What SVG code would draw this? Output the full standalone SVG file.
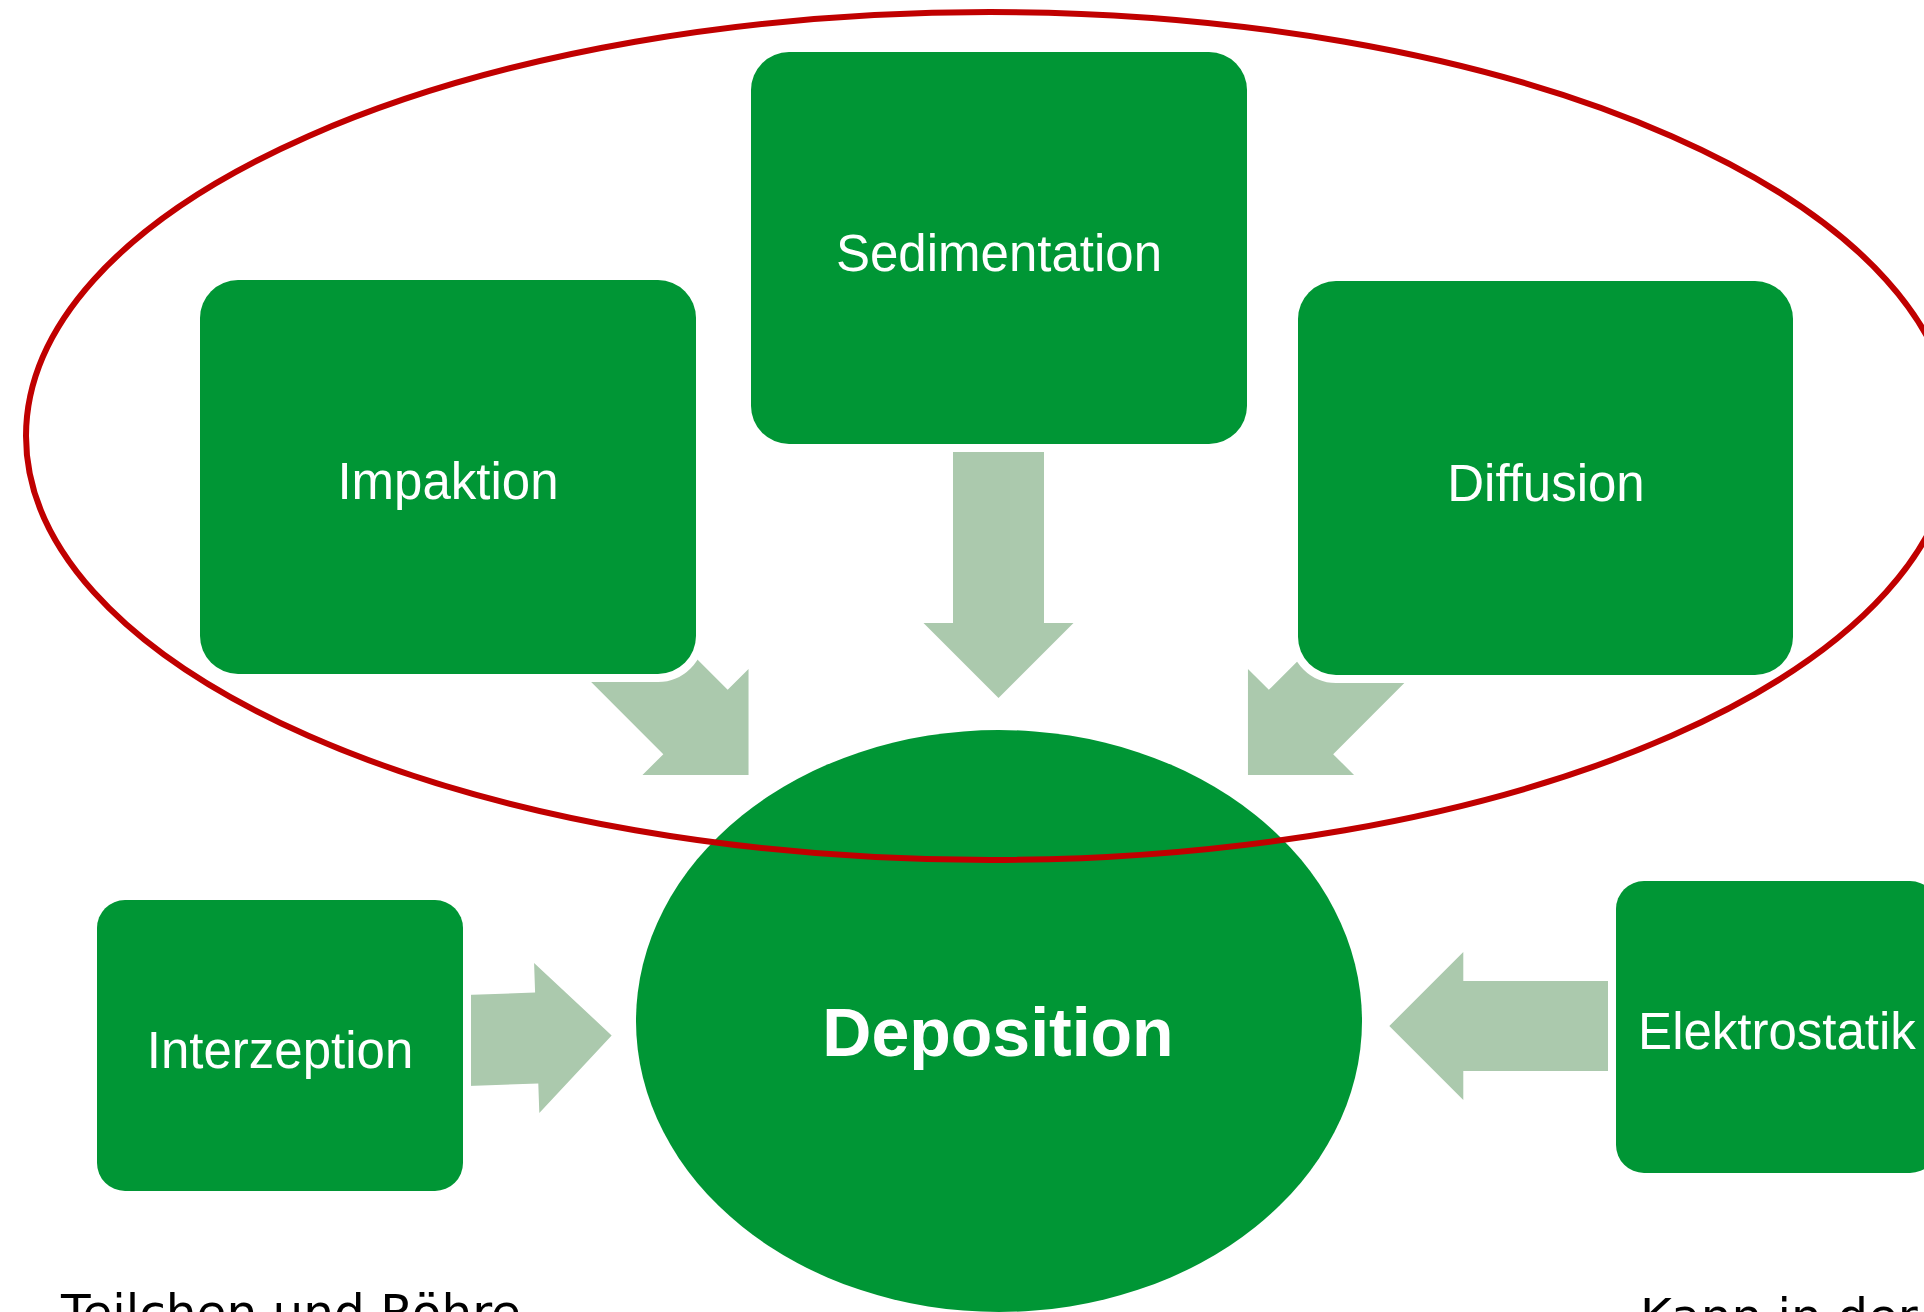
<svg xmlns="http://www.w3.org/2000/svg" width="1924" height="1312" viewBox="0 0 1924 1312">
  <style>
    .box { fill: #009635; stroke: #ffffff; stroke-width: 16; paint-order: stroke; }
    .lbl { fill: #ffffff; font-family: "Liberation Sans", Arial, sans-serif; font-size: 51px; text-anchor: middle; }
    .arrow { fill: #abc9ad; }
    .note { fill: #000000; font-family: "DejaVu Sans", Verdana, sans-serif; font-size: 48.5px; }
  </style>
  <defs>
    <path id="arr" d="M -220 -45.5 L 0 -45.5 L 0 -75 L 75 0 L 0 75 L 0 45.5 L -220 45.5 Z"/>
  </defs>
  <rect width="1924" height="1312" fill="#ffffff"/>

  <g id="connectors">
    <use href="#arr" class="arrow" transform="translate(998.5,623) rotate(90)"/>
    <use href="#arr" class="arrow" transform="translate(695.5,722) rotate(45)"/>
    <use href="#arr" class="arrow" transform="translate(1301,722) rotate(135)"/>
    <path class="arrow" transform="translate(536.7,1038) rotate(-2)" d="M -70 -45.5 L 0 -45.5 L 0 -75 L 75 0 L 0 75 L 0 45.5 L -70 45.5 Z"/>
    <path class="arrow" transform="translate(1463.3,1026) rotate(180)" d="M -150 -45 L 0 -45 L 0 -74 L 74 0 L 0 74 L 0 45 L -150 45 Z"/>
  </g>

  <g id="node-sedimentation">
    <rect class="box" x="751" y="52" width="496" height="392" rx="38" ry="38"/>
    <text class="lbl" x="999" y="271">Sedimentation</text>
  </g>
  <g id="node-impaktion">
    <rect class="box" x="200" y="280" width="496" height="394" rx="38" ry="38"/>
    <text class="lbl" x="448" y="499">Impaktion</text>
  </g>
  <g id="node-diffusion">
    <rect class="box" x="1298" y="281" width="495" height="394" rx="38" ry="38"/>
    <text class="lbl" x="1546" y="501">Diffusion</text>
  </g>
  <g id="node-interzeption">
    <rect class="box" x="97" y="900" width="366" height="291" rx="28" ry="28"/>
    <text class="lbl" x="280" y="1068">Interzeption</text>
  </g>
  <g id="node-elektrostatik">
    <rect class="box" x="1616" y="881" width="322" height="292" rx="28" ry="28"/>
    <text class="lbl" x="1777" y="1049">Elektrostatik</text>
  </g>
  <g id="node-deposition">
    <ellipse cx="999" cy="1021" rx="363" ry="291" fill="#009635"/>
    <text x="998" y="1056" fill="#ffffff" font-family="'Liberation Sans', Arial, sans-serif" font-size="68" font-weight="bold" text-anchor="middle">Deposition</text>
  </g>

  <g id="highlight">
    <ellipse cx="990" cy="436" rx="964" ry="424" fill="none" stroke="#c00000" stroke-width="6"/>
  </g>

  <g id="notes">
    <text class="note" x="61" y="1329">Teilchen und Röhre</text>
    <text class="note" x="1640" y="1333">Kann in der</text>
  </g>
</svg>
